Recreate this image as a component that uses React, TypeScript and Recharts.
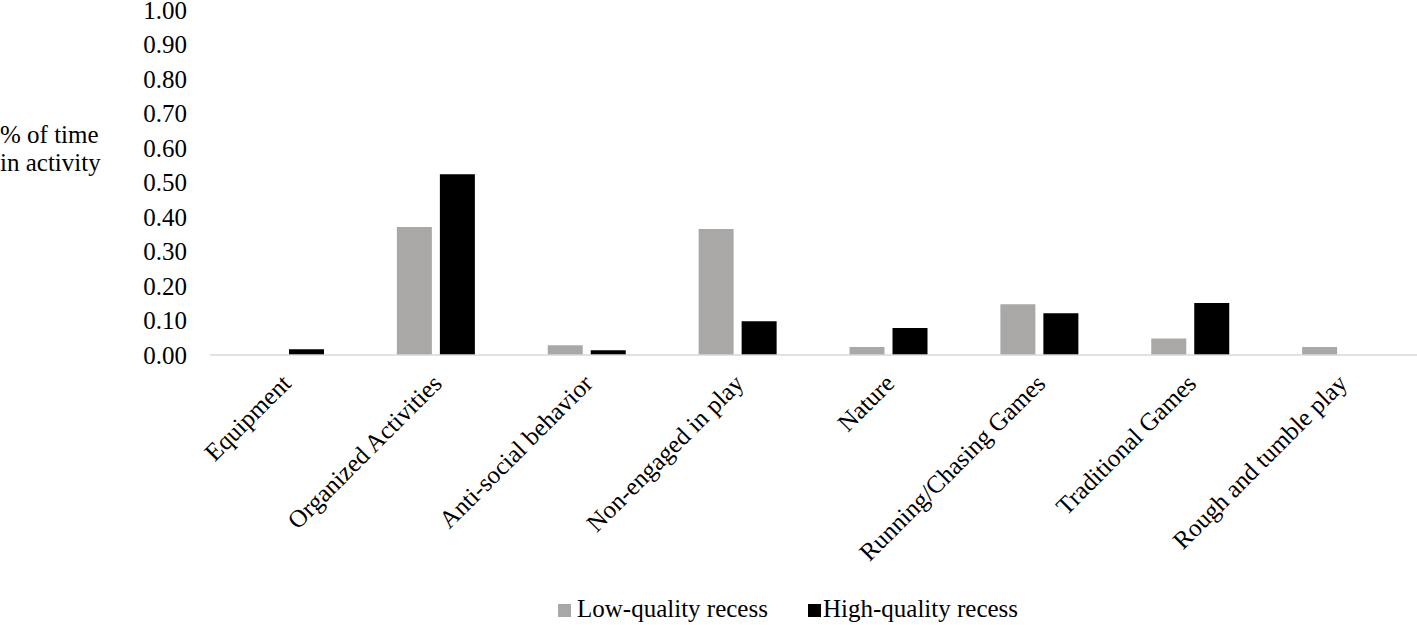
import React from "react";
import { BarChart, Bar, XAxis, YAxis, Legend } from "recharts";

const categories = [
  "Equipment",
  "Organized Activities",
  "Anti-social behavior",
  "Non-engaged in play",
  "Nature",
  "Running/Chasing Games",
  "Traditional Games",
  "Rough and tumble play",
];
const lowQuality = [0.0, 0.371, 0.028, 0.365, 0.023, 0.147, 0.048, 0.023];
const highQuality = [0.017, 0.524, 0.014, 0.098, 0.078, 0.121, 0.151, 0.0];
const yTicks = [0, 0.1, 0.2, 0.3, 0.4, 0.5, 0.6, 0.7, 0.8, 0.9, 1.0];

const data = categories.map((c, i) => ({
  name: c,
  low: lowQuality[i],
  high: highQuality[i],
}));

const FONT = "'Times New Roman', serif";
const FS = 25;

const XTick = (props: any) => {
  const { x, y, payload } = props;
  const ex = x + 7;
  const ey = y + 30;
  return (
    <text
      x={ex}
      y={ey}
      transform={`rotate(-45, ${ex}, ${ey})`}
      textAnchor="end"
      style={{ fontFamily: FONT, fontSize: FS }}
      fill="#000"
    >
      {payload.value}
    </text>
  );
};

const LegendContent = () => (
  <div style={{ position: "relative", height: 28, fontSize: FS, fontFamily: FONT, color: "#000" }}>
    <div style={{ position: "absolute", left: 558, top: 9, width: 13, height: 13, background: "#aaa7a7" }} />
    <div style={{ position: "absolute", left: 577, top: 0, lineHeight: "28px", whiteSpace: "nowrap" }}>Low-quality recess</div>
    <div style={{ position: "absolute", left: 808, top: 9, width: 13, height: 13, background: "#000" }} />
    <div style={{ position: "absolute", left: 823, top: 0, lineHeight: "28px", whiteSpace: "nowrap" }}>High-quality recess</div>
  </div>
);

const YLabel = () => (
  <text x={0} y={0} style={{ fontFamily: FONT, fontSize: FS }} fill="#000">
    <tspan x={0} y={143}>% of time</tspan>
    <tspan x={0} y={171}>in activity</tspan>
  </text>
);

const YTick = (props: any) => {
  const { x, y, payload } = props;
  return (
    <text x={x} y={y} dy="0.35em" textAnchor="end" style={{ fontFamily: FONT, fontSize: FS }} fill="#000">
      {Number(payload.value).toFixed(2)}
    </text>
  );
};

export default function App() {
  return (
    <div style={{ position: "absolute", left: 0, top: 0, width: 1417, height: 625, background: "#fff" }}>
      <BarChart
        width={1417}
        height={625}
        data={data}
        margin={{ top: 10, right: 0, bottom: 212, left: 0 }}
        barSize={35}
        barGap={8}
      >
        <XAxis
          dataKey="name"
          interval={0}
          tickLine={false}
          tickSize={0}
          tickMargin={0}
          axisLine={{ stroke: "#d9d9d9", strokeWidth: 1.5 }}
          tick={<XTick />}
          height={30}
        />
        <YAxis
          width={210}
          domain={[0, 1]}
          ticks={yTicks}
          interval={0}
          axisLine={false}
          tickLine={false}
          tickSize={0}
          tickMargin={23}
          tick={<YTick />}
          label={<YLabel />}
        />
        <Legend
          content={<LegendContent />}
          wrapperStyle={{ position: "absolute", left: 0, top: 595, width: 1417, height: 28 }}
        />
        <Bar dataKey="low" fill="#aaa7a7" isAnimationActive={false} />
        <Bar dataKey="high" fill="#000" isAnimationActive={false} />
      </BarChart>
    </div>
  );
}
